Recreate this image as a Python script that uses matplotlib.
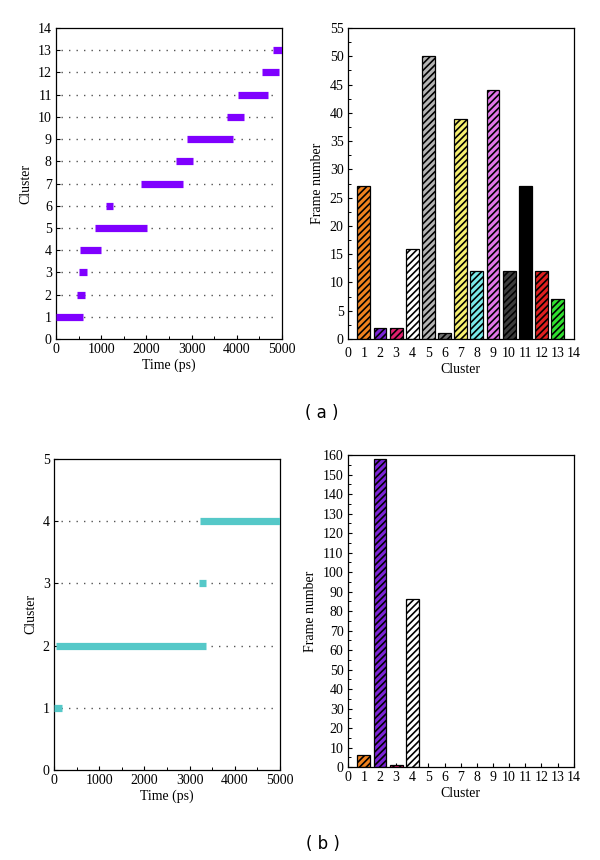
import matplotlib
matplotlib.use("Agg")
import matplotlib.pyplot as plt
from matplotlib.ticker import MultipleLocator

plt.rcParams['font.family'] = ['Liberation Serif', 'DejaVu Serif']
plt.rcParams['hatch.linewidth'] = 1.2
plt.rcParams['hatch.color'] = 'black'

# ---- data (a) ----
a_clusters = [1, 2, 3, 4, 5, 6, 7, 8, 9, 10, 11, 12, 13]
a_start = [0, 465, 500, 540, 870, 1100, 1885, 2665, 2900, 3780, 4025, 4565, 4800]
a_end = [590, 640, 680, 995, 2015, 1255, 2800, 3035, 3915, 4160, 4690, 4935, 5000]
a_frames = [27, 2, 2, 16, 50, 1, 39, 12, 44, 12, 27, 12, 7]
a_colors = ['#f0821e', '#7a22d6', '#e0206e', '#ffffff', '#b4b4b4', '#707070',
            '#f6f070', '#78eaea', '#e276ea', '#3c3c3c', '#000000', '#e02020', '#30e030']

# ---- data (b) ----
b_clusters = [1, 2, 3, 4]
b_start = [0, 50, 3205, 3225]
b_end = [175, 3355, 3370, 5000]
b_frames = [6, 158, 1, 86]
b_colors = ['#f0821e', '#7a22d6', '#e0206e', '#ffffff']

time_ticks = [0, 1000, 2000, 3000, 4000, 5000]

fig = plt.figure(figsize=(6, 8.6), dpi=100)

ax_tl = fig.add_axes([0.0933, 0.6058, 0.3767, 0.3616])
ax_tr = fig.add_axes([0.5795, 0.6058, 0.3767, 0.3616])
ax_bl = fig.add_axes([0.0900, 0.1047, 0.3767, 0.3616])
ax_br = fig.add_axes([0.5795, 0.1081, 0.3767, 0.3628])

tick_fs = 10
label_fs = 10

def style(ax):
    ax.tick_params(direction='in', which='major', length=3, width=0.8, labelsize=tick_fs,
                   top=False, right=False, pad=3)
    ax.tick_params(direction='in', which='minor', length=2, width=0.7, top=False, right=False)
    for s in ax.spines.values():
        s.set_linewidth(0.9)

def gantt(ax, clusters, start, end, color, ymax, dot_x0, dot_x1):
    ax.hlines(clusters, dot_x0, dot_x1, colors='#555555', linestyles=(0, (1, 4.4)),
              linewidth=1.0, zorder=1)
    ax.hlines(clusters, start, end, colors=color, linewidth=5.2, zorder=3,
              capstyle='butt')
    ax.set_xlim(0, 5000)
    ax.set_ylim(0, ymax)
    ax.set_xticks(time_ticks)
    ax.xaxis.set_minor_locator(MultipleLocator(500))
    ax.set_yticks(range(0, ymax + 1))
    ax.set_xlabel('Time (ps)', fontsize=label_fs, labelpad=2)
    ax.set_ylabel('Cluster', fontsize=label_fs, labelpad=4)
    style(ax)

gantt(ax_tl, a_clusters, a_start, a_end, '#7f00ff', 14, 120, 4900)
gantt(ax_bl, b_clusters, b_start, b_end, '#55c8c8', 5, 150, 4930)

def bars(ax, clusters, frames, colors, ymax, ystep, yminor):
    ax.bar(clusters, frames, width=0.8, color=colors, edgecolor='black',
           linewidth=0.9, hatch='/////', zorder=2)
    ax.set_xlim(0, 14)
    ax.set_ylim(0, ymax)
    ax.set_xticks(range(0, 15))
    ax.set_yticks(range(0, ymax + 1, ystep))
    ax.yaxis.set_minor_locator(MultipleLocator(yminor))
    ax.set_xlabel('Cluster', fontsize=label_fs, labelpad=2)
    ax.set_ylabel('Frame number', fontsize=label_fs, labelpad=4)
    style(ax)

bars(ax_tr, a_clusters, a_frames, a_colors, 55, 5, 2.5)
bars(ax_br, b_clusters, b_frames, b_colors, 160, 10, 5)
ax_tr.tick_params(axis='x', which='major', length=0, pad=6)

fig.text(0.537, 0.520, '( a )', ha='center', va='center', fontsize=12,
         family='DejaVu Sans')
fig.text(0.538, 0.019, '( b )', ha='center', va='center', fontsize=12,
         family='DejaVu Sans')

fig.savefig('out.png', dpi=100)
